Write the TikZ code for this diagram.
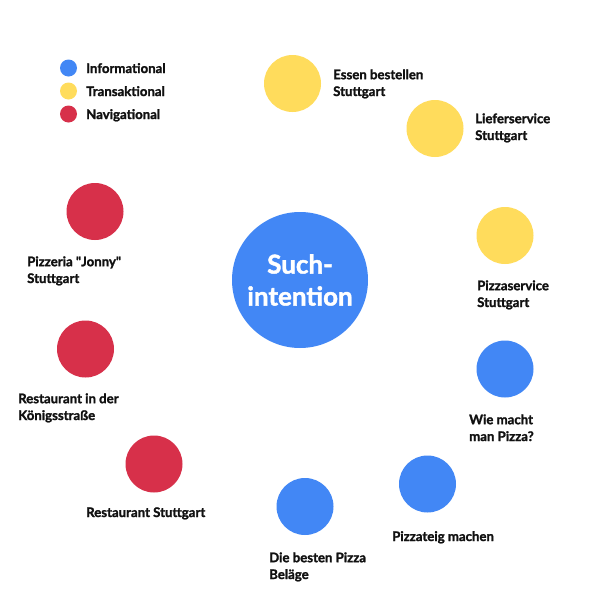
\documentclass[tikz,border=0pt]{standalone}
\usepackage{fontspec}
\setmainfont{Lato}[BoldFeatures={FakeBold=1.6}]
\usepackage{xcolor}
\usepackage{tikz}

\definecolor{infoblue}{HTML}{4287F5}
\definecolor{transyellow}{HTML}{FFDC5C}
\definecolor{navred}{HTML}{D7304A}
\definecolor{labelblack}{HTML}{111111}

\tikzset{
  dot/.style={circle, fill=#1, minimum size=57pt, inner sep=0pt},
  keydot/.style={circle, fill=#1, minimum size=17pt, inner sep=0pt},
  lbl/.style={anchor=base west, inner sep=0pt, align=left, text=labelblack,
    font=\fontsize{13.2}{16.8}\selectfont\bfseries}
}

\begin{document}
\begin{tikzpicture}[x=1pt, y=-1pt]
  \useasboundingbox[fill=white] (0,0) rectangle (600,600);
  % Legende
  \foreach \n/\y/\c/\t in {info/68/infoblue/Informational,
      trans/91/transyellow/Transaktional, nav/114/navred/Navigational} {
    \node[keydot=\c] (key\n) at (68.5,\y) {};
    \node[lbl] (keytext\n) at (86,\y+5) {\t};
  }
  % Mitte
  \node[circle, fill=infoblue, minimum size=136pt, inner sep=0pt] (such) at (300,280) {};
  \node[align=center, text=white, font=\fontsize{26}{32}\selectfont\bfseries]
    (suchtext) at (such) {Such-\\intention};
  % Suchbegriffe
  \foreach \n/\x/\y/\c in {essen/292.5/83.5/transyellow, liefer/435/128.5/transyellow,
      pservice/505/235.5/transyellow, wie/505/369/infoblue, teig/427.5/484/infoblue,
      belaege/305/506.5/infoblue, rstgt/154/464/navred, rkoenig/85.5/349/navred,
      jonny/95/211.5/navred} {
    \node[dot=\c] (\n) at (\x,\y) {};
  }
  % Beschriftungen (Basis = letzte Zeile)
  \node[lbl] (essentext) at (333,96) {Essen bestellen\\Stuttgart};
  \node[lbl] (liefertext) at (475,140) {Lieferservice\\Stuttgart};
  \node[lbl] (pservicetext) at (477,307) {Pizzaservice\\Stuttgart};
  \node[lbl] (wietext) at (469,441) {Wie macht\\man Pizza?};
  \node[lbl] (teigtext) at (392,541) {Pizzateig machen};
  \node[lbl] (belaegetext) at (269,579) {Die besten Pizza\\Beläge};
  \node[lbl] (rstgttext) at (86,517) {Restaurant Stuttgart};
  \node[lbl] (rkoenigtext) at (18,420) {Restaurant in der\\Königsstraße};
  \node[lbl] (jonnytext) at (27,283) {Pizzeria \textquotedbl Jonny\textquotedbl\\Stuttgart};
\end{tikzpicture}
\end{document}
